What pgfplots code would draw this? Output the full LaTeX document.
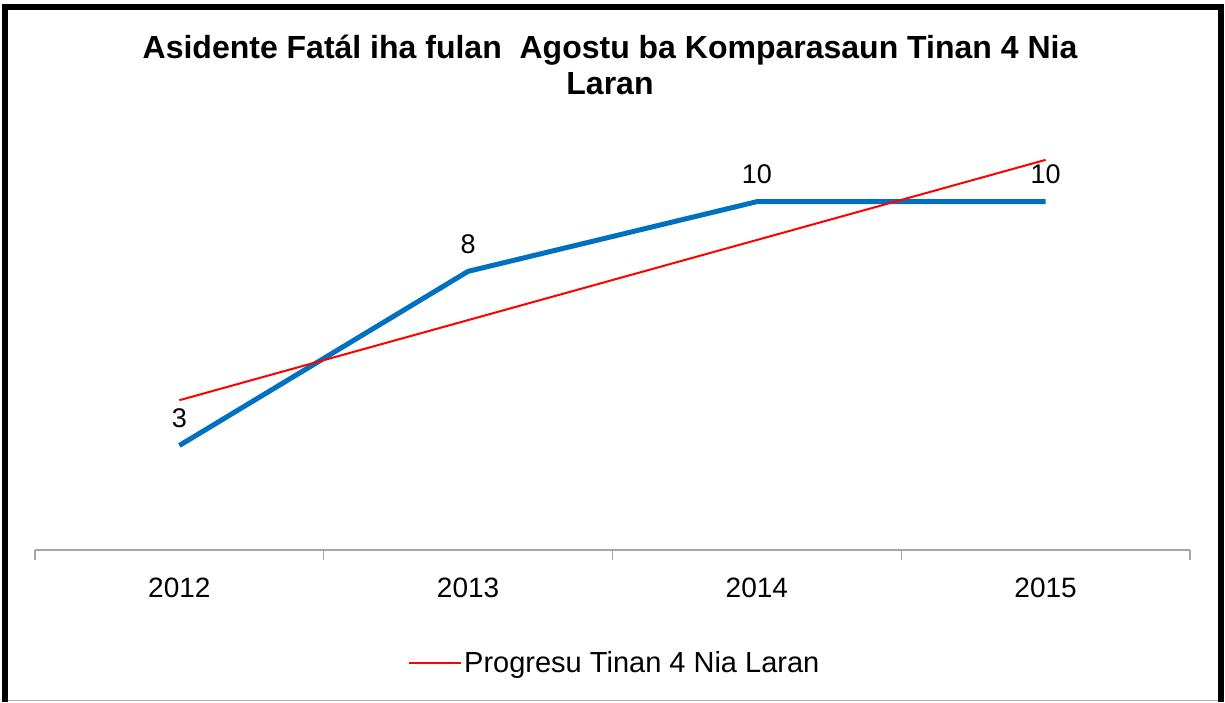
\documentclass[border=0pt]{standalone}
\usepackage{pgfplots}
\pgfplotsset{compat=1.18}
\usepackage{fontspec}
\setmainfont{Liberation Sans}
\definecolor{blueline}{RGB}{0,112,192}
\begin{document}
\begin{tikzpicture}[x=1pt,y=1pt]
\useasboundingbox (0,0) rectangle (1225,702);
% frame
\fill[black] (2,692) rectangle (1224,698);
\fill[black] (2,0) rectangle (8,698);
\fill[black] (1218,0) rectangle (1224,698);
\draw[gray!60, line width=1.5pt] (8,1.5) -- (1218,1.5);
% title
\node[font=\fontsize{32}{36}\selectfont\bfseries, align=center] at (610,637) {Asidente Fatál iha fulan \ Agostu ba Komparasaun Tinan 4 Nia\\Laran};
\begin{axis}[
  at={(35pt,152pt)}, anchor=south west,
  scale only axis, width=1155pt, height=418pt,
  xmin=-0.5, xmax=3.5, ymin=0, ymax=12,
  axis x line=bottom, axis y line=none,
  axis line style={gray!70, line width=1.2pt, -},
  xtick={0,1,2,3}, xticklabels={2012,2013,2014,2015},
  major tick length=0pt,
  minor xtick={-0.5,0.5,1.5,2.5,3.5},
  minor tick length=10pt,
  tick align=outside,
  minor tick style={gray!70, line width=1.2pt},
  xticklabel style={font=\fontsize{28}{32}\selectfont, yshift=-24pt},
  /pgf/number format/assume math mode=true,
  clip=false,
  legend style={at={(0.502,-0.270)}, anchor=center, draw=none, fill=none,
    font=\fontsize{29}{32}\selectfont, legend cell align=left},
  legend image code/.code={\draw[#1, line width=2pt] (0pt,0pt) -- (52pt,0pt);},
]
\addplot[blueline, line width=5pt, line join=round,
  nodes near coords, every node near coord/.append style={font=\fontsize{27}{32}\selectfont, black, yshift=12pt}, forget plot]
  coordinates {(0,3) (1,8) (2,10) (3,10)};
\addplot[red, line width=2pt] coordinates {(0,4.3) (1,6.6) (2,8.9) (3,11.2)};
\addlegendentry{Progresu Tinan 4 Nia Laran}
\end{axis}
\end{tikzpicture}
\end{document}
